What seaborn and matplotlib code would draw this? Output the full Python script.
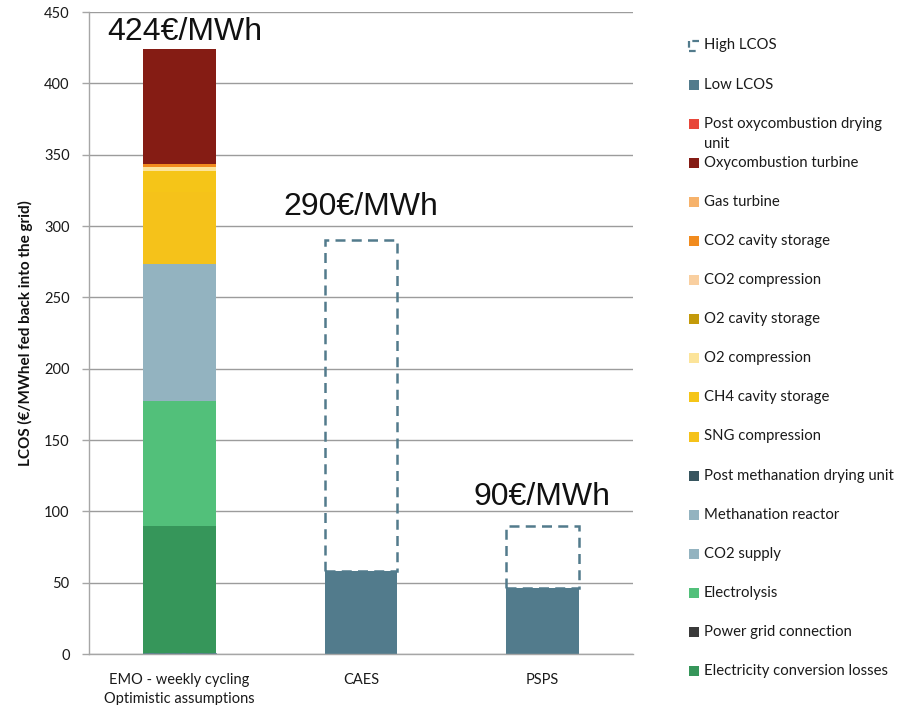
import numpy as np
import pandas as pd
import matplotlib
matplotlib.use("Agg")
import matplotlib.pyplot as plt
from matplotlib.lines import Line2D
from matplotlib.patches import Rectangle
import seaborn as sns

# ---- data -----------------------------------------------------------------
categories = ["EMO - weekly cycling\nOptimistic assumptions", "CAES", "PSPS"]

# EMO cost components, bottom to top (€/MWhel)
emo_components = [
    "Electricity conversion losses", "Power grid connection", "Electrolysis",
    "CO2 supply", "Methanation reactor", "Post methanation drying unit",
    "SNG compression", "CH4 cavity storage", "O2 compression",
    "O2 cavity storage", "CO2 compression", "CO2 cavity storage",
    "Gas turbine", "Oxycombustion turbine", "Post oxycombustion drying unit",
]
emo_values = [90, 0, 87, 12, 84.5, 0, 50, 15, 2.8, 0, 0, 2.2, 0, 80.5, 0]
emo_colors = [
    "#36965A", "#3A3A3A", "#52C07A", "#93B3C0", "#93B3C0", "#37555F",
    "#F5C21A", "#F5C518", "#FCE49A", "#C49A0A", "#F9CFA0", "#F18B1E",
    "#F6B26B", "#851C14", "#E8473A",
]

# CAES / PSPS ranges
low_lcos = [0, 58, 46]
high_lcos = [0, 290, 90]
total_labels = ["424€/MWh", "290€/MWh", "90€/MWh"]
total_values = [424, 290, 90]

lcos_color = "#527B8C"

# ---- figure -----------------------------------------------------------------
sns.set_theme(style="white")
plt.rcParams["font.family"] = ["Lato", "DejaVu Sans"]

fig = plt.figure(figsize=(9, 7.05), dpi=100)
ax = fig.add_axes([89 / 900, 1 - 654 / 705, 544 / 900, 642 / 705])

bar_w = 0.4

# stacked EMO bar: draw cumulative heights from the top layer down
cum = np.cumsum(emo_values)
for top, col in reversed(list(zip(cum, emo_colors))):
    sns.barplot(x=categories, y=[top, 0, 0], order=categories, color=col,
                saturation=1, width=bar_w, linewidth=0, ax=ax)

# low LCOS filled
df_low = pd.DataFrame({"cat": categories, "v": low_lcos})
sns.barplot(data=df_low, x="cat", y="v", order=categories, color=lcos_color,
            saturation=1, width=bar_w, linewidth=0, ax=ax)

# high LCOS: dashed outline stacked on top of the low value
span = [h - l for h, l in zip(high_lcos, low_lcos)]
df_high = pd.DataFrame({"cat": categories, "v": span})
sns.barplot(data=df_high, x="cat", y="v", order=categories, fill=False,
            width=bar_w, saturation=1, ax=ax)
for p, base in zip(ax.patches[-3:], low_lcos):
    p.set_y(base)
    p.set_edgecolor(lcos_color)
    p.set_linestyle((0, (4, 2.5)))
    p.set_linewidth(1.8)
    p.set_facecolor("none")

# total labels
label_offsets_pt = [6.5, 18, 15]
for i, (txt, val) in enumerate(zip(total_labels, total_values)):
    ax.annotate(txt, xy=(i, val), xytext=(4 if i == 0 else 0, label_offsets_pt[i]),
                textcoords="offset points", ha="center", va="baseline",
                fontsize=23, family="Liberation Sans", color="#111111")

# axes styling
ax.set_xlim(-0.5, 2.5)
ax.set_ylim(0, 450)
ax.set_yticks(np.arange(0, 451, 50))
ax.yaxis.grid(True, color="#9C9C9C", linewidth=1)
ax.set_axisbelow(True)
for s in ["top", "right"]:
    ax.spines[s].set_visible(False)
for s in ["left", "bottom"]:
    ax.spines[s].set_color("#A6A6A6")
    ax.spines[s].set_linewidth(1)

ax.set_xticks([0, 1, 2])
ax.set_xticklabels(categories, fontsize=10.5, color="#1A1A1A", linespacing=1.45)
ax.set_xticks([-0.5, 0.5, 1.5, 2.5], minor=True)
ax.tick_params(axis="x", which="major", length=0, pad=14)
ax.tick_params(axis="x", which="minor", length=5, color="#A6A6A6", width=1)
ax.tick_params(axis="y", length=5, color="#A6A6A6", width=1, pad=9,
               labelsize=10.5, labelcolor="#1A1A1A", left=True)
ax.set_xlabel("")
ax.set_ylabel("LCOS (€/MWhel fed back into the grid)", fontsize=11,
              fontweight="bold", color="#111111", labelpad=8)

# ---- legend (right column) -------------------------------------------------
legend_labels = ["High LCOS", "Low LCOS"] + emo_components[::-1]
legend_labels[2] = "Post oxycombustion drying\nunit"
legend_colors = [None, lcos_color] + emo_colors[::-1]

def fx(px):
    return px / 900

def fy(py):
    return 1 - py / 705

y0, dy = 45.5, 39.1
for i, (lab, col) in enumerate(zip(legend_labels, legend_colors)):
    yc = y0 + i * dy
    if col is None:
        fig.add_artist(Line2D([fx(699), fx(689), fx(689), fx(699)],
                              [fy(yc - 5), fy(yc - 5), fy(yc + 5), fy(yc + 5)],
                              transform=fig.transFigure, color=lcos_color,
                              linewidth=1.6, linestyle=(0, (3, 1.5))))
    else:
        fig.add_artist(Rectangle((fx(689), fy(yc + 5)), fx(10), 10 / 705,
                                 transform=fig.transFigure, facecolor=col,
                                 edgecolor="none"))
    for k, line in enumerate(lab.split("\n")):
        fig.text(fx(704), fy(yc + k * 20), line, ha="left", va="center",
                 fontsize=10.7, color="#1A1A1A")

fig.savefig("out.png", dpi=100)
